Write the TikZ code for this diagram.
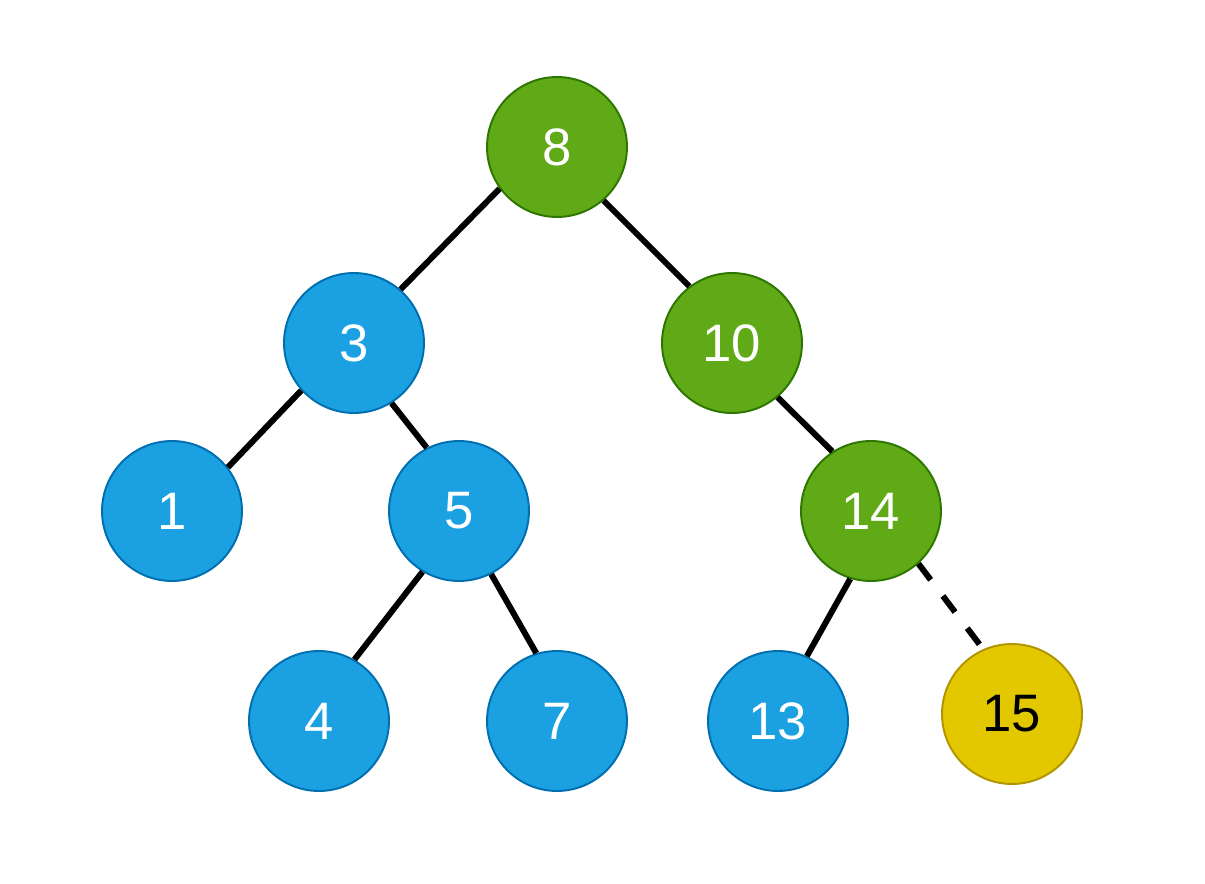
\documentclass[tikz,border=0pt]{standalone}
\usepackage{fontspec}
\setmainfont{Liberation Sans}
\usepackage{tikz}
\usetikzlibrary{positioning}

\definecolor{leafblue}{HTML}{1BA1E2}
\definecolor{leafblueline}{HTML}{006EAF}
\definecolor{pathgreen}{HTML}{60A917}
\definecolor{pathgreenline}{HTML}{2D7600}
\definecolor{newyellow}{HTML}{E3C800}
\definecolor{newyellowline}{HTML}{B09500}

\begin{document}
\begin{tikzpicture}[
  x=0.02cm, y=-0.02cm,
  key/.style={circle, fill=#1, minimum size=2.8cm, inner sep=0pt,
              line width=1.1pt, font=\fontsize{30}{30}\selectfont},
  blue key/.style={key=leafblue, draw=leafblueline, text=white},
  green key/.style={key=pathgreen, draw=pathgreenline, text=white},
  yellow key/.style={key=newyellow, draw=newyellowline, text=black},
  edge/.style={line width=3.4pt, black},
]
\useasboundingbox (0,0) rectangle (1205,884);

% --- search path (green)
\node[green key] (n8) at (557,147) {8};
\node[green key] (n10) at (732,343) {10};
\node[green key] (n14) at (871,511) {14};

% --- other keys (blue)
\node[blue key] (n3) at (354,343) {3};
\node[blue key] (n1) at (172,511) {1};
\node[blue key] (n5) at (459,511) {5};
\node[blue key] (n4) at (319,721) {4};
\node[blue key] (n7) at (557,721) {7};
\node[blue key] (n13) at (778,721) {13};

% --- inserted key
\node[yellow key] (n15) at (1012,714) {15};

% --- edges
\draw[edge] (n8.216) -- (n3.49);
\draw[edge] (n8.311) -- (n10.127);
\draw[edge] (n3.222) -- (n1.38);
\draw[edge] (n3.302) -- (n5.117);
\draw[edge] (n5.239) -- (n4.60);
\draw[edge] (n5.297) -- (n7.107);
\draw[edge] (n10.310) -- (n14.123);
\draw[edge] (n14.253) -- (n13.66);
\draw[edge, dash pattern=on 11.5pt off 11.5pt] (n14.312) -- (n15.114);

\end{tikzpicture}
\end{document}
